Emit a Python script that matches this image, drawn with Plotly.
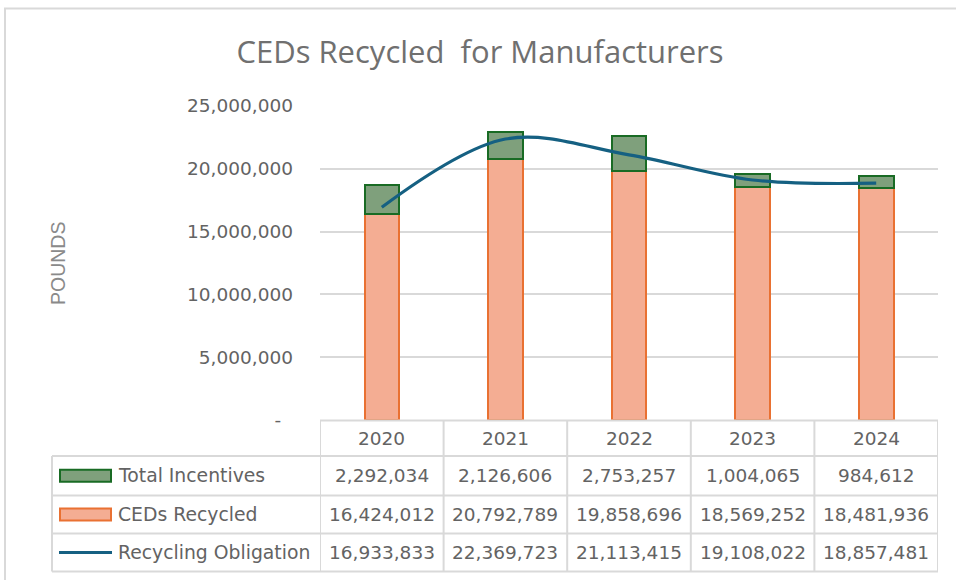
import plotly.graph_objects as go

years = ["2020", "2021", "2022", "2023", "2024"]
total_incentives = [2292034, 2126606, 2753257, 1004065, 984612]
ceds_recycled = [16424012, 20792789, 19858696, 18569252, 18481936]
recycling_obligation = [16933833, 22369723, 21113415, 19108022, 18857481]
series_names = ["Total Incentives", "CEDs Recycled", "Recycling Obligation"]
y_tick_vals = [0, 5000000, 10000000, 15000000, 20000000, 25000000]

W, H = 956, 580
L, R, T, B = 320, 18, 106, 160
PW, PH = W - L - R, H - T - B


def px(x):
    return (x - L) / PW


def py(y):
    return (H - B - y) / PH


TXT = "#636363"
GRID = "#D9D9D9"
ORANGE_FILL = "#F4AD93"
ORANGE_LINE = "#E97132"
GREEN_FILL = "#7FA07C"
GREEN_LINE = "#196B24"
LINE_COL = "#156082"
FONT = "DejaVu Sans"

fig = go.Figure()
fig.add_trace(go.Bar(x=years, y=ceds_recycled, name=series_names[1], width=0.28,
                     marker=dict(color=ORANGE_FILL, line=dict(color=ORANGE_LINE, width=2))))
fig.add_trace(go.Bar(x=years, y=total_incentives, name=series_names[0], width=0.28,
                     marker=dict(color=GREEN_FILL, line=dict(color=GREEN_LINE, width=2))))
fig.add_trace(go.Scatter(x=years, y=recycling_obligation, name=series_names[2], mode="lines",
                         line=dict(color=LINE_COL, width=3.2, shape="spline", smoothing=1.0)))

tick_text = ["-\u00a0\u00a0"] + [f"{v:,}" for v in y_tick_vals[1:]]

shapes = []
annotations = []

# outer chart border
shapes.append(dict(type="rect", xref="paper", yref="paper", x0=px(5), x1=px(975), y0=py(600), y1=py(8.5),
                   line=dict(color=GRID, width=2), fillcolor="rgba(0,0,0,0)", layer="below"))

# data table grid
row_tops = [420.5, 456, 495.5, 533.5, 571.5]
n = len(years)
shapes.append(dict(type="line", xref="x", yref="paper", x0=-0.5, x1=n - 0.5, y0=py(row_tops[0]), y1=py(row_tops[0]),
                   line=dict(color=GRID, width=2)))
for yy in row_tops[1:]:
    shapes.append(dict(type="line", xref="paper", yref="paper", x0=px(52), x1=1, y0=py(yy), y1=py(yy),
                       line=dict(color=GRID, width=2)))
for i in range(n + 1):
    shapes.append(dict(type="line", xref="x", yref="paper", x0=i - 0.5, x1=i - 0.5,
                       y0=py(row_tops[0]), y1=py(row_tops[-1]), line=dict(color=GRID, width=2)))
shapes.append(dict(type="line", xref="paper", yref="paper", x0=px(52), x1=px(52),
                   y0=py(row_tops[1]), y1=py(row_tops[-1]), line=dict(color=GRID, width=2)))

# header labels
hdr_y = (row_tops[0] + row_tops[1]) / 2
for i, yr in enumerate(years):
    annotations.append(dict(x=i, y=py(hdr_y), xref="x", yref="paper", text=yr, showarrow=False,
                            xanchor="center", yanchor="middle", font=dict(family=FONT, size=18.5, color=TXT)))

rows = [total_incentives, ceds_recycled, recycling_obligation]
for r, vals in enumerate(rows):
    cy = (row_tops[r + 1] + row_tops[r + 2]) / 2
    for i, v in enumerate(vals):
        annotations.append(dict(x=i, y=py(cy), xref="x", yref="paper", text=f"{v:,}", showarrow=False,
                                xanchor="center", yanchor="middle", font=dict(family=FONT, size=18.5, color=TXT)))
    annotations.append(dict(x=px(116), y=py(cy), xref="paper", yref="paper", text=series_names[r], showarrow=False,
                            xanchor="left", yanchor="middle", font=dict(family=FONT, size=18.8, color=TXT)))
    if r < 2:
        fc, lc = (GREEN_FILL, GREEN_LINE) if r == 0 else (ORANGE_FILL, ORANGE_LINE)
        shapes.append(dict(type="rect", xref="paper", yref="paper", x0=px(60), x1=px(111),
                           y0=py(cy + 6), y1=py(cy - 6), fillcolor=fc, line=dict(color=lc, width=2)))
    else:
        shapes.append(dict(type="line", xref="paper", yref="paper", x0=px(59), x1=px(112),
                           y0=py(cy), y1=py(cy), line=dict(color=LINE_COL, width=3.2)))

# y axis title
annotations.append(dict(x=px(58), y=py(264), xref="paper", yref="paper", text="POUNDS", showarrow=False,
                        textangle=-90, xanchor="center", yanchor="middle",
                        font=dict(family="Liberation Sans", size=19.5, color="#8A8A8A")))

fig.update_layout(
    width=W, height=H,
    margin=dict(l=L, r=R, t=T, b=B),
    paper_bgcolor="white", plot_bgcolor="white",
    barmode="stack", showlegend=False,
    title=dict(text="CEDs Recycled  for Manufacturers", x=480 / W, xanchor="center",
               y=1 - 52 / H, yanchor="middle", font=dict(family="Open Sans", size=31, color="#707070")),
    xaxis=dict(type="category", range=[-0.5, n - 0.5], showticklabels=False, showgrid=False,
               zeroline=False, showline=False),
    yaxis=dict(range=[0, 25000000], tickvals=y_tick_vals, ticktext=tick_text, showgrid=True,
               gridcolor=GRID, gridwidth=2, zeroline=False, showline=False, ticks="",
               ticklabelstandoff=26, tickfont=dict(family=FONT, size=18.5, color=TXT)),
    shapes=shapes, annotations=annotations,
)

fig.write_html("out.html", config={"displayModeBar": False},
               post_script="document.body.style.margin='0';document.body.style.overflow='hidden';")
